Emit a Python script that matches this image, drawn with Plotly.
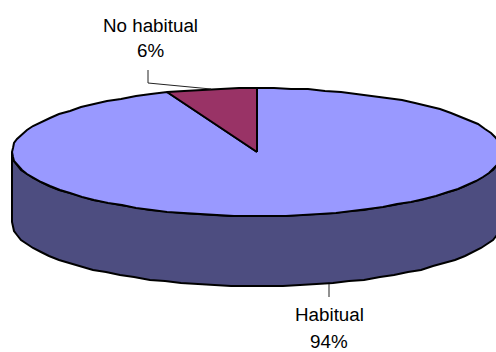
import numpy as np
import plotly.graph_objects as go

# Pie data
categories = ["Habitual", "No habitual"]
values = [94, 6]
percent_labels = ["94%", "6%"]
face_colors = ["#9999FF", "#993366"]
wall_color = "#4D4D80"

# Tilted-disc geometry in page pixels
CX, CY = 257, 152
RX, RY = 245, 64
DEPTH = 70
STEP_DEG = 4


def rim(a_deg, drop=0.0):
    """Points on the rim; angle runs clockwise from twelve o'clock."""
    a = np.radians(a_deg)
    return np.round(CX + RX * np.sin(a)), np.round(CY - RY * np.cos(a) + drop)


def sweep(start, end):
    n = max(2, int(abs(end - start) / STEP_DEG) + 1)
    return np.linspace(start, end, n)


shares = np.array(values, dtype=float) / sum(values) * 360
ends = np.cumsum(shares)
starts = ends - shares

fig = go.Figure()
line = dict(color="black", width=2)

# Cylinder wall: the front half of the rim, top edge and bottom edge
front = sweep(90, 270)
xt, yt = rim(front)
xb, yb = rim(front[::-1], DEPTH)
fig.add_trace(go.Scatter(
    x=np.r_[xt, xb, xt[0]], y=np.r_[yt, yb, yt[0]],
    mode="lines", fill="toself", fillcolor=wall_color, line=line,
    hoverinfo="skip", showlegend=False,
))

# Top face wedges
for name, s, e, color in zip(categories, starts, ends, face_colors):
    xr, yr = rim(sweep(s, e))
    fig.add_trace(go.Scatter(
        x=np.r_[CX, xr, CX], y=np.r_[CY, yr, CY],
        mode="lines", fill="toself", fillcolor=color, line=line,
        name=name, showlegend=False,
    ))

# Leader lines
leaders = [
    ([329, 329], [284, 297]),
    ([148, 148, 211], [70, 83, 89]),
]
for lx, ly in leaders:
    fig.add_trace(go.Scatter(
        x=lx, y=ly, mode="lines", line=dict(color="#222222", width=1),
        hoverinfo="skip", showlegend=False,
    ))

# Category and percentage captions
label_pos = [(329, 314, 341), (150, 25, 50)]
for name, pct, (lx, y1, y2) in zip(categories, percent_labels, label_pos):
    for text, y in ((name, y1), (pct, y2)):
        fig.add_annotation(
            x=lx, y=y, text=text, showarrow=False,
            font=dict(family="Liberation Sans", size=18.8, color="black"),
            xanchor="center", yanchor="middle",
        )

fig.update_layout(
    width=496, height=352,
    margin=dict(l=0, r=0, t=0, b=0),
    paper_bgcolor="white", plot_bgcolor="white",
    xaxis=dict(range=[0, 496], visible=False, fixedrange=True),
    yaxis=dict(range=[352, 0], visible=False, fixedrange=True),
    showlegend=False,
)
fig.write_html("out.html", config={"displayModeBar": False})
